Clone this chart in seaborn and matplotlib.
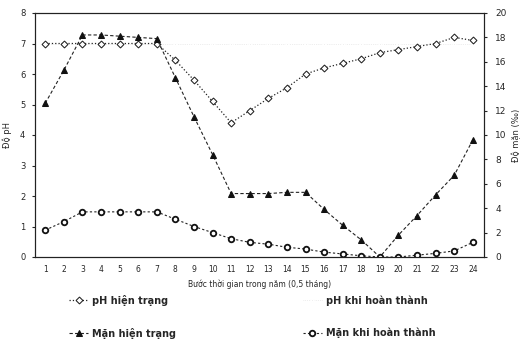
import numpy as np
import pandas as pd
import matplotlib
matplotlib.use('Agg')
import matplotlib.pyplot as plt
import seaborn as sns

sns.set_style("white")
plt.rcParams['font.family'] = ['DejaVu Sans']

steps = list(range(1, 25))
ph_hien_trang = [7.0, 7.0, 7.0, 7.0, 7.0, 7.0, 7.0, 6.45, 5.8, 5.1, 4.4, 4.8,
                 5.2, 5.55, 6.0, 6.2, 6.35, 6.5, 6.7, 6.8, 6.9, 7.0, 7.2, 7.1]
ph_hoan_thanh = [7.0] * 24
man_hien_trang = [12.6, 15.3, 18.2, 18.2, 18.1, 18.0, 17.9, 14.7, 11.5, 8.4, 5.2, 5.2,
                  5.2, 5.3, 5.3, 3.9, 2.6, 1.4, 0.0, 1.8, 3.4, 5.1, 6.7, 9.6]
man_hoan_thanh = [2.2, 2.9, 3.7, 3.7, 3.7, 3.7, 3.7, 3.1, 2.5, 2.0, 1.5, 1.2,
                  1.05, 0.8, 0.65, 0.4, 0.25, 0.1, 0.0, 0.0, 0.15, 0.3, 0.5, 1.2]

df = pd.DataFrame({
    'step': steps,
    'ph_ht': ph_hien_trang,
    'ph_kht': ph_hoan_thanh,
    'man_ht': man_hien_trang,
    'man_kht': man_hoan_thanh,
})

fig = plt.figure(figsize=(5.23, 3.55), dpi=100)
ax = fig.add_axes([35 / 523, 1 - 257 / 355, 449 / 523, 244 / 355])
ax2 = ax.twinx()

# pH khi hoan thanh is nearly invisible on the scan, keep it faint
sns.lineplot(data=df, x='step', y='ph_kht', ax=ax, color='#dddddd', linestyle=':',
             marker='*', markersize=3, linewidth=0.5, label='pH khi hoàn thành', legend=False)
sns.lineplot(data=df, x='step', y='ph_ht', ax=ax, color='#222222', linestyle=':',
             marker='D', markersize=3.5, markerfacecolor='white', markeredgecolor='#222222',
             linewidth=0.9, label='pH hiện trạng', legend=False)
sns.lineplot(data=df, x='step', y='man_ht', ax=ax2, color='#222222', linestyle=(0, (3, 2)),
             marker='^', markersize=4, markerfacecolor='#111111', markeredgecolor='#111111',
             linewidth=0.8, label='Mặn hiện trạng', legend=False)
sns.lineplot(data=df, x='step', y='man_kht', ax=ax2, color='#222222', linestyle=(0, (2, 2)),
             marker='o', markersize=4, markerfacecolor='white', markeredgecolor='#111111',
             markeredgewidth=1.3, linewidth=0.8, label='Mặn khi hoàn thành', legend=False)

ax.set_xlim(0.45, 24.6)
ax.set_ylim(0, 8)
ax2.set_ylim(0, 20)
ax.set_xticks(steps)
ax.set_xticklabels([str(s) for s in steps], fontsize=5.5)
ax.set_yticks(range(0, 9))
ax.tick_params(axis='y', labelsize=6, length=2, pad=5)
ax.tick_params(axis='x', length=0, pad=6)
ax2.set_yticks(range(0, 21, 2))
ax2.tick_params(axis='y', labelsize=6.5, length=2, pad=6)

ax.set_xlabel('Bước thời gian trong năm (0,5 tháng)', fontsize=5.5, labelpad=4)
ax.set_ylabel('Độ pH', fontsize=6, labelpad=6)
ax2.set_ylabel('Độ mặn (‰)', fontsize=6)

for a in (ax, ax2):
    for s in a.spines.values():
        s.set_color('#222222')
        s.set_linewidth(0.8)

h1, l1 = ax.get_legend_handles_labels()
h2, l2 = ax2.get_legend_handles_labels()
lookup = dict(zip(l1 + l2, h1 + h2))
order = ['pH hiện trạng', 'Mặn hiện trạng', 'pH khi hoàn thành', 'Mặn khi hoàn thành']
fig.legend([lookup[k] for k in order], order, ncol=2, loc='upper left',
           bbox_to_anchor=(0.115, 0.195), frameon=False,
           columnspacing=13, handlelength=2, handletextpad=0.4, labelspacing=2.3,
           prop={'weight': 'bold', 'size': 7})

fig.savefig('out.png', dpi=100)
